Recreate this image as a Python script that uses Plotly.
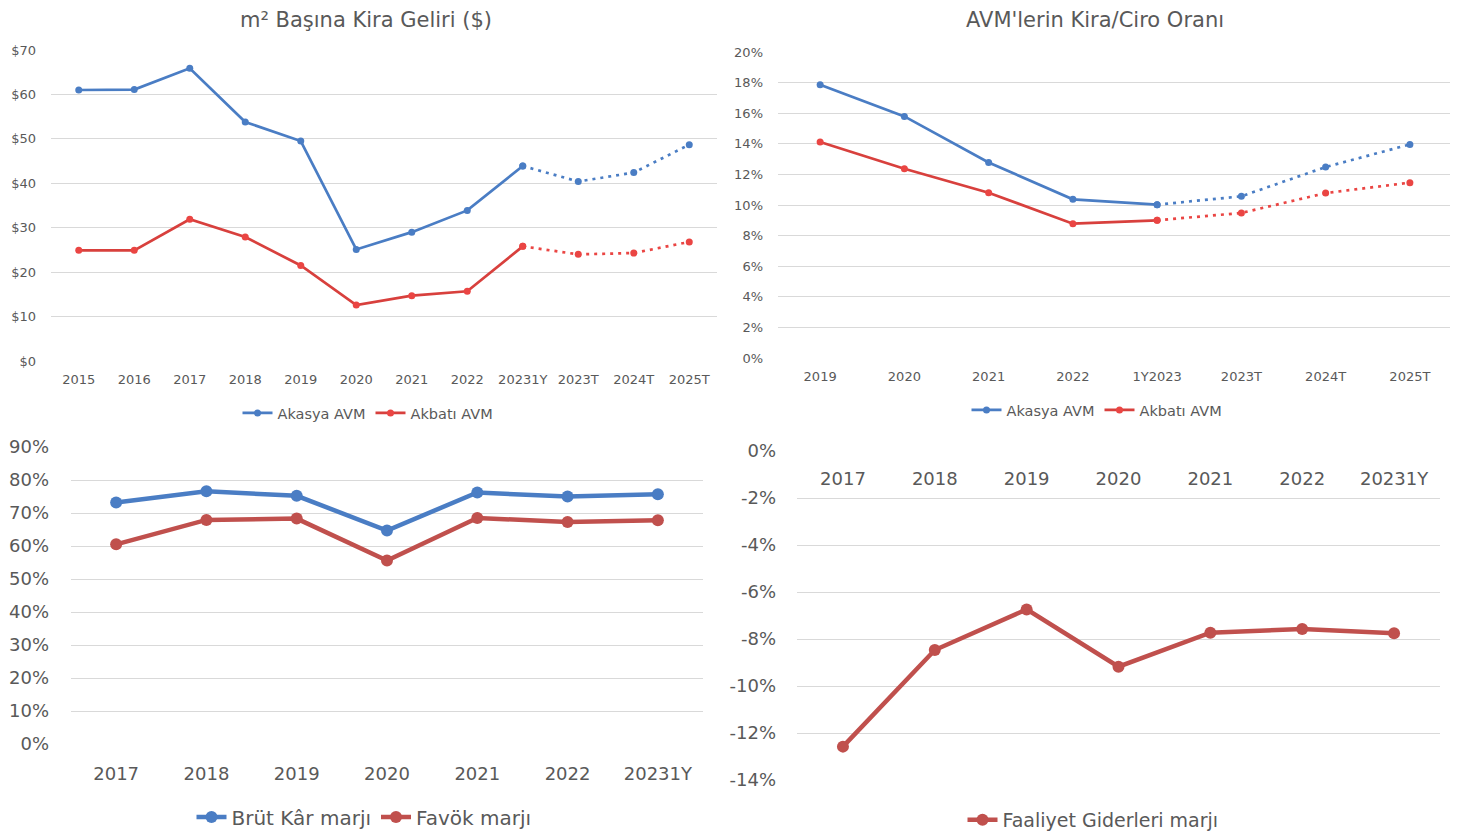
import plotly.graph_objects as go

# m2 basina kira geliri ($)
rent_years = ['2015', '2016', '2017', '2018', '2019', '2020', '2021', '2022',
              '20231Y', '2023T', '2024T', '2025T']
rent_akasya = [61.0, 61.1, 65.9, 53.8, 49.5, 25.1, 29.0, 33.9, 43.9, 40.4, 42.4, 48.7]
rent_akbati = [24.9, 24.9, 31.9, 27.9, 21.5, 12.6, 14.7, 15.7, 25.8, 24.0, 24.3, 26.8]

# kira / ciro orani
ratio_years = ['2019', '2020', '2021', '2022', '1Y2023', '2023T', '2024T', '2025T']
ratio_akasya = [0.1786, 0.1579, 0.1278, 0.1037, 0.1002, 0.1057, 0.1248, 0.1396]
ratio_akbati = [0.1412, 0.1237, 0.1080, 0.0878, 0.0900, 0.0948, 0.1078, 0.1146]

# marjlar
margin_years = ['2017', '2018', '2019', '2020', '2021', '2022', '20231Y']
brut_kar = [0.732, 0.766, 0.752, 0.647, 0.762, 0.750, 0.757]
favok = [0.605, 0.679, 0.683, 0.556, 0.685, 0.673, 0.678]
faaliyet_gider = [-0.1258, -0.0847, -0.0674, -0.0918, -0.0773, -0.0757, -0.0776]
gider_ticks = [0, -0.02, -0.04, -0.06, -0.08, -0.10, -0.12, -0.14]
gider_labels = ['0%', '-2%', '-4%', '-6%', '-8%', '-10%', '-12%', '-14%']

BLUE = '#4A7DC4'
RED_TOP = '#D8403D'
RED_DOT = '#EA4543'
RED = '#C0504D'
GRID = '#D9D9D9'
TXT = '#595959'
FONT = 'DejaVu Sans'

# page body has an 8px margin, so the figure is a bit smaller than the window
OFF = 8
W, H = 1450, 825

def px_x(a, b):
    return [(a - OFF) / W, (b - OFF) / W]

def px_y(top, bottom):
    return [1 - (bottom - OFF) / H, 1 - (top - OFF) / H]

def fx(x):
    return (x - OFF) / W

def fy(y):
    return 1 - (y - OFF) / H

fig = go.Figure()

# top left: solid part up to 20231Y, dotted forecast after
split = rent_years.index('20231Y')
for vals, name, lc, mc in [(rent_akasya, 'Akasya AVM', BLUE, BLUE),
                           (rent_akbati, 'Akbatı AVM', RED_TOP, RED_DOT)]:
    fig.add_trace(go.Scatter(x=rent_years[:split + 1], y=vals[:split + 1], name=name,
                             mode='lines+markers', line=dict(color=lc, width=2.7),
                             marker=dict(color=mc, size=7), xaxis='x', yaxis='y',
                             legend='legend'))
    fig.add_trace(go.Scatter(x=rent_years[split:], y=vals[split:], showlegend=False,
                             mode='lines+markers', line=dict(color=mc, width=2.7, dash='3px,5px'),
                             marker=dict(color=mc, size=7), xaxis='x', yaxis='y'))

# top right
split = ratio_years.index('1Y2023')
for vals, name, lc, mc in [(ratio_akasya, 'Akasya AVM', BLUE, BLUE),
                           (ratio_akbati, 'Akbatı AVM', RED_TOP, RED_DOT)]:
    fig.add_trace(go.Scatter(x=ratio_years[:split + 1], y=vals[:split + 1], name=name,
                             mode='lines+markers', line=dict(color=lc, width=2.7),
                             marker=dict(color=mc, size=7), xaxis='x2', yaxis='y2',
                             legend='legend2'))
    fig.add_trace(go.Scatter(x=ratio_years[split:], y=vals[split:], showlegend=False,
                             mode='lines+markers', line=dict(color=mc, width=2.7, dash='3px,5px'),
                             marker=dict(color=mc, size=7), xaxis='x2', yaxis='y2'))

# bottom left
fig.add_trace(go.Scatter(x=margin_years, y=brut_kar, name='Brüt Kâr marjı',
                         mode='lines+markers', line=dict(color=BLUE, width=4.5),
                         marker=dict(color=BLUE, size=12), xaxis='x3', yaxis='y3',
                         legend='legend3'))
fig.add_trace(go.Scatter(x=margin_years, y=favok, name='Favök marjı',
                         mode='lines+markers', line=dict(color=RED, width=4.5),
                         marker=dict(color=RED, size=12), xaxis='x3', yaxis='y3',
                         legend='legend3'))

# bottom right
fig.add_trace(go.Scatter(x=margin_years, y=faaliyet_gider, name='Faaliyet Giderleri marjı',
                         mode='lines+markers', line=dict(color=RED, width=4.5),
                         marker=dict(color=RED, size=12), xaxis='x4', yaxis='y4',
                         legend='legend4'))

small = dict(family=FONT, size=13, color=TXT)
big = dict(family=FONT, size=18, color=TXT)

def xax(cats, dom, font, standoff, **kw):
    d = dict(domain=dom, type='category', categoryorder='array', categoryarray=cats,
             range=[-0.5, len(cats) - 0.5], showgrid=False, showline=False, zeroline=False,
             ticks='', tickfont=font, ticklabelstandoff=standoff, fixedrange=True,
             automargin=False)
    d.update(kw)
    return d

def yax(dom, rng, font, standoff, **kw):
    d = dict(domain=dom, range=rng, showgrid=True, gridcolor=GRID, gridwidth=1,
             showline=False, zeroline=False, ticks='', tickfont=font,
             ticklabelstandoff=standoff, fixedrange=True, automargin=False)
    d.update(kw)
    return d

def leg(x, y, size):
    return dict(orientation='h', x=fx(x), y=fy(y), xref='container', yref='container',
                xanchor='center', yanchor='middle',
                font=dict(family=FONT, size=size, color=TXT),
                bgcolor='rgba(0,0,0,0)', itemclick=False)

fig.update_layout(
    width=W, height=H, margin=dict(l=0, r=0, t=0, b=0, autoexpand=False),
    paper_bgcolor='white', plot_bgcolor='white',
    font=dict(family=FONT, color=TXT),
    xaxis=xax(rent_years, px_x(51, 717), small, 9, anchor='y'),
    yaxis=yax(px_y(50, 361), [0, 70], small, 14, anchor='x', dtick=10, tickprefix='$'),
    xaxis2=xax(ratio_years, px_x(778, 1452), small, 9, anchor='y2'),
    yaxis2=yax(px_y(52, 358), [0, 0.2], small, 14, anchor='x2', dtick=0.02, tickformat='.0%'),
    xaxis3=xax(margin_years, px_x(71, 703), big, 17, anchor='y3'),
    yaxis3=yax(px_y(447, 744), [0, 0.9], big, 21, anchor='x3', dtick=0.1, tickformat='.0%'),
    xaxis4=xax(margin_years, px_x(797, 1440), big, 15, anchor='free',
               position=fy(451)),
    yaxis4=yax(px_y(451, 780), [-0.14, 0], big, 20, anchor='x4',
               tickmode='array', tickvals=gider_ticks, ticktext=gider_labels),
    legend=leg(368, 413, 14.5),
    legend2=leg(1097, 410, 14.5),
    legend3=leg(364, 817, 20),
    legend4=leg(1093, 820, 19),
    annotations=[
        dict(text='m² Başına Kira Geliri ($)', x=fx(366), y=fy(20), xref='paper',
             yref='paper', xanchor='center', yanchor='middle', showarrow=False,
             font=dict(family=FONT, size=21, color=TXT)),
        dict(text="AVM'lerin Kira/Ciro Oranı", x=fx(1095), y=fy(20), xref='paper',
             yref='paper', xanchor='center', yanchor='middle', showarrow=False,
             font=dict(family=FONT, size=21, color=TXT)),
    ],
)

fig.write_html('out.html')
